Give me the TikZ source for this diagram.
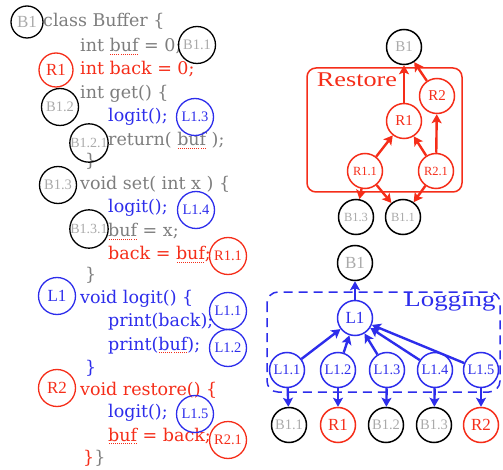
\documentclass[tikz,border=0pt]{standalone}
\usepackage{fontspec}
\setmainfont{Liberation Serif}
\newfontfamily\codefont{DejaVu Serif}
\newfontfamily\titlefont[FakeStretch=1.25]{Liberation Serif}
\usetikzlibrary{arrows.meta}
\definecolor{rd}{RGB}{245,45,25}
\definecolor{bl}{RGB}{45,45,235}
\definecolor{gy}{RGB}{125,125,125}
\definecolor{lg}{RGB}{170,170,170}
% red dotted underline for the shared variable
\newcommand\sqbuf[1]{\setbox0\hbox{#1}\rlap{\color{rd}\raisebox{-3pt}{\hbox to \wd0{\xleaders\hbox to 2pt{\hss\rule{1pt}{1pt}\hss}\hfill}}}\box0\relax}
\begin{document}
\begin{tikzpicture}[x=1pt,y=-1pt,
  code/.style={anchor=base west, inner sep=0pt, font=\codefont\fontsize{17.5}{20}\selectfont},
  ring/.style={circle, draw, line width=1.3pt, inner sep=0pt, minimum size=37pt},
  szA/.style={font=\fontsize{17}{17}\selectfont},
  szB/.style={font=\fontsize{14.5}{14.5}\selectfont},
  szC/.style={font=\fontsize{14}{14}\selectfont},
  szD/.style={font=\fontsize{15}{15}\selectfont},
  szE/.style={font=\fontsize{12.5}{12.5}\selectfont},
  kb/.style={ring, draw=black, text=lg},
  kr/.style={ring, draw=rd, text=rd},
  kl/.style={ring, draw=bl, text=bl},
  gn/.style={circle, line width=1.5pt, inner sep=0pt, minimum size=35pt},
  gb/.style={gn, draw=black, text=lg},
  gr/.style={gn, draw=rd, text=rd},
  gl/.style={gn, draw=bl, text=bl},
  ar/.style={line width=2.4pt, -{Stealth[length=9pt,width=10pt,inset=2pt]}},
]
\useasboundingbox (0,0) rectangle (503,470);

% ---------- source code ----------
\node[code, text=gy] (t1)  at (43,27)  {class Buffer \{};
\node[code, text=gy] (t2)  at (80,52)  {int \sqbuf{buf} = 0;};
\node[code, text=rd] (t3)  at (80,75)  {int back = 0;};
\node[code, text=gy] (t4)  at (80,99)  {int get() \{};
\node[code, text=bl] (t5)  at (108,122) {logit();};
\node[code, text=gy] (t6)  at (108,146) {return( \sqbuf{buf} );};
\node[code, text=gy] (t7)  at (85,167)  {\}};
\node[code, text=gy] (t8)  at (80,190)  {void set( int x ) \{};
\node[code, text=bl] (t9)  at (108,213) {logit();};
\node[code, text=gy] (t10) at (108,237) {\sqbuf{buf} = x;};
\node[code, text=rd] (t11) at (108,260) {back = \sqbuf{buf};};
\node[code, text=gy] (t12) at (85,280)  {\}};
\node[code, text=bl] (t13) at (80,303)  {void logit() \{};
\node[code, text=bl] (t14) at (108,326) {print(back);};
\node[code, text=bl] (t15) at (108,350) {print(\sqbuf{buf});};
\node[code, text=bl] (t16) at (85,373)  {\}};
\node[code, text=rd] (t17) at (80,395)  {void restore() \{};
\node[code, text=bl] (t18) at (108,417) {logit();};
\node[code, text=rd] (t19) at (108,441) {\sqbuf{buf} = back;};
\node[code, text=rd] (t20) at (83,463)  {\}\textcolor{gy}{\}}};

% ---------- labels on the code ----------
\node[kb, szA, minimum size=32pt] (cB1)   at (27,22)  {B1};
\node[kb, szB] (cB11)  at (197,45)  {B1.1};
\node[kr, szA, minimum size=34pt] (cR1) at (56,70) {R1};
\node[kb, szB] (cB12)  at (60,107)  {B1.2};
\node[kl, szB] (cL13)  at (195,117) {L1.3};
\node[kb, szC] (cB121) at (89,143)  {B1.2.1};
\node[kb, szB] (cB13)  at (58,185)  {B1.3};
\node[kl, szB] (cL14)  at (196,210) {L1.4};
\node[kb, szC] (cB131) at (89,229)  {B1.3.1};
\node[kr, szB] (cR11)  at (228,256) {R1.1};
\node[kl, szA] (cL1)   at (57,296)  {L1};
\node[kl, szB] (cL11)  at (228,311) {L1.1};
\node[kl, szB] (cL12)  at (228,348) {L1.2};
\node[kr, szA] (cR2)   at (57,388)  {R2};
\node[kl, szB] (cL15)  at (195,414) {L1.5};
\node[kr, szB] (cR21)  at (228,440) {R2.1};

% ---------- Restore view ----------
\draw[rd, line width=1.5pt, rounded corners=9pt] (307,68) rectangle (462,192);
\node[text=rd, font=\titlefont\fontsize{21}{21}\selectfont] (rt) at (357,80) {Restore};
\node[gb, szD] (rB1)  at (404,47)  {B1};
\node[gr, szD] (rR1)  at (404,121) {R1};
\node[gr, szD] (rR2)  at (437,96)  {R2};
\node[gr, szE] (rR11) at (365,171) {R1.1};
\node[gr, szE] (rR21) at (436,171) {R2.1};
\node[gb, szE] (rB13) at (356,217) {B1.3};
\node[gb, szE] (rB11) at (403,217) {B1.1};
\begin{scope}[rd]
\draw[ar] (rR1) -- (rB1);
\draw[ar] (rR2) -- (rB1);
\draw[ar] (rR11) -- (rR1);
\draw[ar] (rR21) -- (rR1);
\draw[ar] (rR21) -- (rR2);
\draw[ar] (rR11) -- (rB13);
\draw[ar] (rR11) -- (rB11);
\draw[ar] (rR21) -- (rB11);
\end{scope}

% ---------- Logging view ----------
\draw[bl, line width=1.5pt, dash pattern=on 9pt off 6pt, rounded corners=11pt] (267,292) rectangle (500,392);
\node[text=bl, font=\titlefont\fontsize{21.5}{21.5}\selectfont] (lt) at (450,302) {Logging};
\node[gb, szA] (lB1)  at (355,263) {B1};
\node[gl, szA] (lL1)  at (355,318) {L1};
\node[gl, szB] (lL11) at (287,370) {L1.1};
\node[gl, szB] (lL12) at (338,370) {L1.2};
\node[gl, szB] (lL13) at (387,370) {L1.3};
\node[gl, szB] (lL14) at (435,370) {L1.4};
\node[gl, szB] (lL15) at (481,370) {L1.5};
\node[gb, szB] (bB11) at (289,425) {B1.1};
\node[gr, szA] (bR1)  at (338,425) {R1};
\node[gb, szB] (bB12) at (386,425) {B1.2};
\node[gb, szB] (bB13) at (434,425) {B1.3};
\node[gr, szA] (bR2)  at (481,425) {R2};
\begin{scope}[bl]
\draw[ar] (lL1) -- (lB1);
\foreach \s/\d in {lL11/bB11, lL12/bR1, lL13/bB12, lL14/bB13, lL15/bR2}{
  \draw[ar] (\s) -- (lL1);
  \draw[ar] (\s) -- (\d);
}
\end{scope}
\end{tikzpicture}
\end{document}
